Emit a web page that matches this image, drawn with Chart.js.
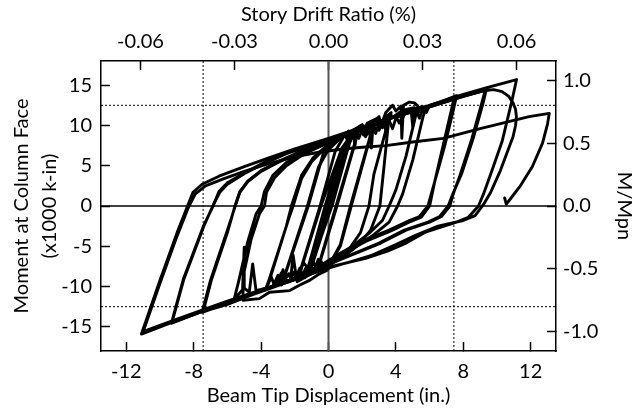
<!DOCTYPE html>
<html>
<head>
<meta charset="utf-8">
<script src="https://cdn.jsdelivr.net/npm/chart.js@4.4.1/dist/chart.umd.min.js"></script>
<style>
    html, body { margin: 0; padding: 0; background: #fff; }
</style>
</head>
<body>
<canvas id="hysteresisChart" width="636" height="410"></canvas>
<script>
// axis ticks
var dispTicks = [-12, -8, -4, 0, 4, 8, 12];
var momentTicks = [-15, -10, -5, 0, 5, 10, 15];
var driftTicks = [-0.06, -0.03, 0, 0.03, 0.06];
var ratioTicks = [-1, -0.5, 0, 0.5, 1];

var beamLength = 186;   // in., drift = disp / beamLength
var mpn = 15.6;         // x1000 k-in
var dispLimit = 13.5;
var momentLimit = 18;
var driftMarks = [-7.44, 7.44];     // 0.04 rad
var momentMarks = [-12.5, 12.5];    // 0.8 Mpn

// test record, [beam tip displacement (in.), moment (x1000 k-in)]
var cyc0375 = [[0,0],[0.35,2.6],[0.7,5.1],[0.6,4.4],[0.05,0.3],[-0.35,-2.5],[-0.7,-5.0],[-0.6,-4.3],[0,-0.2],[0.7,5.2],[0.6,4.5],[0.05,0.2],[-0.7,-5.1],[-0.6,-4.4],[0,0]];
var cyc05 = [[0,0],[0.93,6.6],[0.8,5.7],[0.1,0.3],[-0.93,-6.7],[-0.8,-5.8],[-0.05,-0.2],[0.93,6.7],[0.8,5.8],[0.1,0.2],[-0.93,-6.8],[-0.8,-5.9],[0,0]];
var cyc075 = [[0,0],[1.0,7.1],[1.4,8.7],[1.25,7.8],[0.2,0.3],[-0.9,-6.9],[-1.4,-8.8],[-1.25,-7.9],[-0.2,-0.2],[1.0,7.2],[1.4,8.8],[1.25,7.9],[0.25,0.3],[-0.95,-7.0],[-1.4,-8.9],[-1.25,-8.0],[-0.2,0]];
var cyc1 = [[-0.2,0],[0.8,7.0],[1.3,8.8],[1.86,9.9],[1.7,8.8],[0.45,0],[-0.5,-6.8],[-1.1,-8.5],[-1.86,-9.4],[-1.7,-8.3],[-0.45,0],
    [0.8,7.2],[1.4,9.0],[1.86,9.8],[1.7,8.7],[0.5,0],[-0.5,-6.9],[-1.2,-8.6],[-1.86,-9.3],[-1.7,-8.2],[-0.5,0]];
var cyc15 = [[-0.5,0],[0.4,6.8],[0.9,8.6],[1.2,9.3],[1.35,8.5],[1.6,9.6],[2.0,10.1],[2.15,9.3],[2.4,10.4],[2.79,10.8],[2.6,9.6],[1.3,0],
    [0.7,-4.8],[0.2,-6.7],[-0.3,-7.6],[-0.45,-6.8],[-0.7,-8.1],[-1.2,-8.6],[-1.35,-7.7],[-1.6,-8.9],[-2.2,-9.3],[-2.35,-8.4],[-2.79,-9.8],[-2.6,-8.7],[-1.2,0],
    [-0.3,6.6],[0.6,8.3],[1.0,9.0],[1.2,8.2],[1.5,9.5],[1.9,9.9],[2.05,8.9],[2.3,10.3],[2.79,10.7],[2.6,9.5],[1.35,0],
    [0.7,-5.0],[0.2,-6.8],[-0.4,-7.7],[-0.9,-8.3],[-1.05,-7.4],[-1.4,-8.7],[-1.9,-9.1],[-2.05,-8.2],[-2.3,-9.4],[-2.79,-9.7],[-2.6,-8.6],[-1.25,0]];
var cyc2 = [[-1.25,0],[-0.6,4.8],[0,7.0],[0.6,8.2],[1.1,8.9],[1.3,8.1],[1.6,9.4],[2.1,9.9],[2.3,8.9],[2.6,10.3],[3.0,10.8],[3.15,9.9],[3.4,11.1],[3.72,11.6],[3.55,10.5],[2.7,4],[2.4,0],
    [1.9,-3.3],[1.2,-5.4],[0.4,-6.9],[-0.4,-7.8],[-0.6,-6.6],[-0.9,-8.3],[-1.5,-8.8],[-1.7,-7.7],[-2.0,-9.1],[-2.6,-9.5],[-2.8,-8.3],[-3.1,-9.8],[-3.72,-10.4],[-3.5,-9.2],[-2.5,-2.5],[-2.2,0],
    [-1.6,3.8],[-0.9,6.0],[-0.2,7.3],[0.5,8.2],[1.0,8.9],[1.15,7.9],[1.4,9.3],[2.0,9.8],[2.2,8.6],[2.5,10.2],[3.05,10.7],[3.2,9.7],[3.5,11.0],[3.72,11.3],[3.55,10.2],[3.3,5],[3.05,0],
    [2.5,-3.0],[1.8,-4.8],[0.9,-6.3],[0,-7.4],[-0.7,-8.1],[-0.9,-6.9],[-1.2,-8.5],[-1.9,-9.0],[-2.1,-6.1],[-2.25,-9.2],[-2.8,-9.6],[-3.0,-8.6],[-3.3,-10.0],[-3.72,-10.3],[-3.5,-9.0],[-2.3,-1.2],[-2.1,0]];
var cyc3 = [[-2.1,0],[-1.6,3.4],[-1.0,5.5],[-0.3,7.0],[0.5,8.2],[1.2,9.0],[1.5,9.3],[1.56,7.2],[1.65,9.4],[2.0,9.9],[2.1,8.8],[2.4,10.3],[2.55,7.2],[2.65,10.4],[3.0,11.1],[3.1,9.9],[3.4,11.6],[3.8,12.5],[4.0,11.8],[4.3,12.4],[4.35,8.4],[4.45,12.5],[4.8,12.9],[5.1,12.8],[5.3,12.4],[5.15,11.0],[4.6,6.2],[4.0,2.0],[3.6,0],
    [3.2,-1.8],[2.4,-3.4],[1.4,-5.0],[0.5,-6.4],[-0.1,-8.0],[-0.6,-8.5],[-1.1,-9.2],[-1.7,-9.8],[-2.3,-10.5],[-3.5,-10.7],[-4.1,-11.5],[-5.07,-11.7],[-5.07,-8.8],[-4.6,-4.2],[-4.1,-1],[-3.8,0],
    [-3.68,1.7],[-3.2,3.5],[-2.5,5.0],[-1.5,6.4],[-0.5,7.4],[0.5,8.3],[1.5,9.2],[1.8,8.4],[2.0,9.5],[2.5,10.1],[3.0,9.4],[3.2,10.6],[3.8,11.0],[4.2,11.6],[4.4,10.8],[4.6,12.0],[5.1,12.2],[5.3,11.5],[5.5,12.3],[5.8,12.3],[5.6,11.0],[5.0,5.7],[4.4,1.5],[4.1,0],
    [3.6,-2.0],[2.6,-3.7],[1.6,-5.1],[0.6,-6.5],[-0.3,-7.6],[-1.0,-8.3],[-1.5,-7.0],[-1.8,-8.9],[-2.5,-9.4],[-2.7,-7.9],[-2.9,-9.6],[-3.2,-9.9],[-3.4,-8.8],[-3.7,-10.2],[-4.3,-10.5],[-4.5,-7.2],[-4.7,-10.7],[-5.0,-10.2],[-5.0,-5.1],[-5.1,-10.4],[-5.6,-11.6],[-5.35,-9.5],[-4.8,-4.5],[-4.3,-1],[-4.0,0]];
var cyc4 = [[-4.0,0],[-3.8,1.8],[-3.3,3.8],[-2.5,5.4],[-1.5,6.6],[0,7.9],[1.5,9.1],[2.6,10.0],[2.8,9.0],[3.0,10.4],[3.3,10.6],[3.4,9.3],[3.5,10.8],[4.0,11.2],[4.2,10.3],[4.5,11.6],[4.9,11.9],[5.0,9.9],[5.1,12.0],[5.5,12.3],[5.8,11.6],[6.0,12.5],[6.6,12.9],[7.0,13.2],[7.6,13.7],[7.45,12.3],[6.9,7.5],[6.3,3],[5.9,0],
    [5.4,-1.3],[4.8,-1.8],[3.6,-3.0],[2.05,-4.3],[0.5,-6.1],[-0.5,-7.4],[-1.5,-8.6],[-3,-9.8],[-4.5,-10.9],[-6,-12.1],[-7.5,-13.2],[-7.0,-9.2],[-6.0,-3.0],[-5.5,0.2],
    [-5.26,1.7],[-4.8,3.0],[-4.0,4.3],[-3.0,5.4],[-1.5,6.8],[0,7.9],[1.5,9.1],[3,10.3],[3.6,10.6],[3.8,9.6],[4.0,10.9],[4.5,11.5],[5.2,11.9],[5.4,10.9],[5.6,12.1],[6,12.4],[7.44,13.3],[7.3,12.0],[6.8,7.5],[6.3,3.0],[6.0,0],
    [5.5,-1.4],[4.9,-1.9],[3.7,-3.1],[2.2,-4.4],[0.6,-6.2],[-0.5,-7.5],[-1.5,-8.7],[-3,-9.9],[-4.5,-11.0],[-6,-12.2],[-7.44,-13.1],[-6.95,-9.2],[-6.0,-3.3],[-5.55,0]];
var cyc5 = [[-5.55,0],[-5.26,1.8],[-4.8,3.1],[-4,4.4],[-3,5.5],[-1.5,6.9],[0,8.0],[2,9.6],[4,11.1],[6,12.4],[8,13.7],[9.38,14.6],[9.2,13.0],[8.6,8.5],[7.9,4.0],[7.4,1.6],[7.1,0],
    [6.6,-1.3],[5.9,-2.0],[4.5,-3.0],[3.0,-4.6],[1.5,-5.9],[0.2,-7.1],[-1,-8.2],[-2.5,-9.4],[-4,-10.5],[-6,-11.9],[-8,-13.5],[-9.3,-14.55],[-8.6,-9.2],[-7.4,-2.5],[-6.8,0.3],
    [-6.45,1.7],[-6.0,2.7],[-5,4.0],[-4,5.1],[-2.5,6.5],[-1,7.6],[0.5,8.6],[2,9.7],[4,11.1],[6,12.3],[8,13.6],[9.3,14.4],[9.1,12.8],[8.5,8.3],[7.8,3.8],[7.4,1.5],[7.2,0],
    [6.7,-1.3],[6.0,-2.0],[4.6,-3.0],[3.1,-4.6],[1.6,-5.9],[0.3,-7.0],[-1,-8.2],[-2.5,-9.4],[-4,-10.5],[-6,-11.9],[-8,-13.4],[-9.3,-14.4],[-8.6,-9.0],[-7.4,-2.4],[-6.85,0]];
var cyc6 = [[-6.85,0],[-6.5,1.8],[-6.0,2.9],[-5,4.1],[-4,5.2],[-2.5,6.6],[-1,7.7],[0.5,8.7],[2,9.8],[4,11.2],[6,12.5],[7.6,13.6],[9.4,14.7],[11.16,15.7],[10.9,13.2],[10.3,8.0],[9.7,4.4],[9.2,1.5],[8.9,0],
    [8.3,-1.4],[7.6,-2.0],[5.8,-3.2],[4.6,-4.6],[3.5,-5.6],[2.2,-6.5],[1.0,-7.1],[0,-7.7],[-2,-9.1],[-4,-10.5],[-6,-11.9],[-8,-13.5],[-9.6,-14.7],[-11.1,-15.9],[-10.0,-9.2],[-9.0,-3.4],[-8.4,-0.2],
    [-8.04,1.7],[-7.5,2.7],[-6.5,3.7],[-5,4.9],[-3.5,6.0],[-2,7.1],[0,8.4],[2,9.8],[4,11.1],[6,12.3],[8,13.6],[9.2,14.3],[9.8,14.45],[10.3,14.2],[10.7,13.6],[10.95,12.8],[11.1,12.0],[11.15,11.1],[11.1,10.0],[10.95,8.6],[10.2,4.4],[9.6,1.6],[9.2,0.2],[8.7,-1.2],
    [8.0,-1.8],[6.5,-2.5],[5.2,-3.6],[4.0,-4.8],[2.6,-6.1],[1.2,-7.0],[0,-7.6],[-2,-9.0],[-4,-10.4],[-6,-11.8],[-8,-13.3],[-9.6,-14.5],[-11.0,-15.6],[-10.0,-9.6],[-9.0,-3.8],[-8.3,-0.1]];
var finalPush = [[-8.3,-0.1],[-7.9,1.5],[-7.3,2.5],[-6.2,3.4],[-5,4.3],[-3.5,5.3],[-2,6.1],[-0.5,6.7],[1,7.1],[2,7.3],[3.4,7.5],[5,7.95],[6.8,8.4],[9,9.6],[11.9,11.1],[13.1,11.5],
    [13.0,10.2],[12.7,7.8],[12.1,4.9],[11.35,2.4],[10.8,0.9],[10.55,0.25],[10.45,1.0]];

var record = [cyc0375, cyc05, cyc075, cyc1, cyc15, cyc2, cyc3, cyc4, cyc5, cyc6, finalPush];

(function () {
    var chartElement = document.getElementById('hysteresisChart');
    if (!chartElement || typeof Chart === 'undefined') {
        return;
    }

    var textColor = '#000';
    var font = { family: 'Lato, "Open Sans", sans-serif', size: 20 };

    function toPoints(pairs) {
        return pairs.map(function (p) { return { x: p[0], y: p[1] }; });
    }

    function fixedSize(size) {
        return function (scale) {
            if (scale.isHorizontal()) scale.height = size;
            else scale.width = size;
        };
    }

    function setTicks(values) {
        return function (scale) {
            scale.ticks = values.map(function (v) { return { value: v }; });
        };
    }

    function axisGrid() {
        return { drawOnChartArea: false, tickLength: -9, tickColor: '#000', tickWidth: 1.5, color: '#000' };
    }

    var datasets = record.map(function (cycle) {
        return {
            data: toPoints(cycle),
            showLine: true,
            borderColor: '#000',
            borderWidth: 2.9,
            borderJoinStyle: 'round',
            borderCapStyle: 'round',
            pointRadius: 0,
            tension: 0
        };
    });

    function refLine(pairs, color, width, dash) {
        return {
            data: toPoints(pairs),
            showLine: true,
            borderColor: color,
            borderWidth: width,
            borderDash: dash,
            pointRadius: 0
        };
    }

    momentMarks.forEach(function (m) {
        datasets.push(refLine([[-dispLimit, m], [dispLimit, m]], '#000', 1, [2, 2]));
    });
    driftMarks.forEach(function (d) {
        datasets.push(refLine([[d, -momentLimit], [d, momentLimit]], '#000', 1, [2, 2]));
    });
    datasets.push(refLine([[-dispLimit, 0], [dispLimit, 0]], '#000', 1.5, []));
    datasets.push(refLine([[0, -momentLimit], [0, momentLimit]], '#555', 2, []));

    new Chart(chartElement.getContext('2d'), {
        type: 'scatter',
        data: { datasets: datasets },
        options: {
            responsive: false,
            animation: false,
            layout: { padding: 0 },
            plugins: { legend: { display: false }, tooltip: { enabled: false } },
            scales: {
                x: {
                    type: 'linear', position: 'bottom',
                    min: -dispLimit, max: dispLimit,
                    afterBuildTicks: setTicks(dispTicks),
                    afterFit: fixedSize(59),
                    grid: axisGrid(),
                    border: { color: '#000', width: 1.5 },
                    ticks: { padding: 18, font: font, color: textColor, autoSkip: false, maxRotation: 0,
                        callback: function (v) { return String(v); } },
                    title: { display: true, text: 'Beam Tip Displacement (in.)', font: font, color: textColor,
                        padding: { top: 0, bottom: 2 } }
                },
                x2: {
                    type: 'linear', position: 'top',
                    min: -dispLimit / beamLength, max: dispLimit / beamLength,
                    afterBuildTicks: setTicks(driftTicks),
                    afterFit: fixedSize(61),
                    grid: axisGrid(),
                    border: { color: '#000', width: 1.5 },
                    ticks: { padding: 16, font: font, color: textColor, autoSkip: false, maxRotation: 0,
                        callback: function (v) { return v.toFixed(2); } },
                    title: { display: true, text: 'Story Drift Ratio (%)', font: font, color: textColor,
                        padding: { top: 3, bottom: 0 } }
                },
                y: {
                    type: 'linear', position: 'left',
                    min: -momentLimit, max: momentLimit,
                    afterBuildTicks: setTicks(momentTicks),
                    afterFit: fixedSize(101),
                    grid: axisGrid(),
                    border: { color: '#000', width: 1.5 },
                    ticks: { padding: 18, font: font, color: textColor, autoSkip: false,
                        callback: function (v) { return String(v); } },
                    title: { display: true, text: ['Moment at Column Face', '(x1000 k-in)'],
                        font: { family: font.family, size: 20, lineHeight: 1.4 }, color: textColor,
                        padding: { top: 8, bottom: 0 } }
                },
                y2: {
                    type: 'linear', position: 'right',
                    min: -momentLimit / mpn, max: momentLimit / mpn,
                    afterBuildTicks: setTicks(ratioTicks),
                    afterFit: fixedSize(80),
                    grid: axisGrid(),
                    border: { color: '#000', width: 1.5 },
                    ticks: { padding: 16, font: font, color: textColor, autoSkip: false,
                        callback: function (v) { return v.toFixed(1); } },
                    title: { display: true, text: 'M/Mpn', font: font, color: textColor,
                        padding: { top: 0, bottom: 0 } }
                }
            }
        }
    });
})();
</script>
</body>
</html>
